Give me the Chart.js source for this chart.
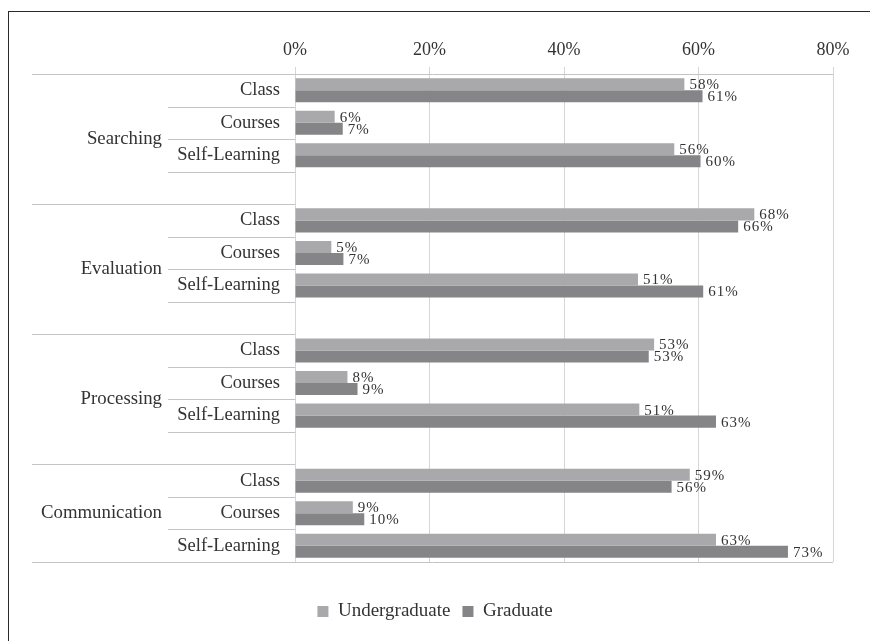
<!DOCTYPE html>
<html>
<head>
<meta charset="utf-8">
<script src="https://cdn.jsdelivr.net/npm/chart.js@4.4.1/dist/chart.umd.min.js"></script>
<style>
  html, body { margin: 0; padding: 0; background: #ffffff; overflow: hidden; }
  #wrap { position: absolute; left: 0; top: 0; width: 870px; height: 641px; }
  #frame { position: absolute; left: 8px; top: 11px; width: 900px; height: 700px; border-left: 1.5px solid #2a2a2a; border-top: 1.5px solid #2a2a2a; pointer-events: none; }
</style>
</head>
<body>
<div id="wrap"><canvas id="c"></canvas></div>
<div id="frame"></div>
<script>
// ---- data ----
const groups = ['Searching', 'Evaluation', 'Processing', 'Communication'];
const subCategories = ['Class', 'Courses', 'Self-Learning'];
const seriesNames = ['Undergraduate', 'Graduate'];
// order: Searching(Class, Courses, Self-Learning), Evaluation(...), Processing(...), Communication(...)
const undergraduate = [57.9, 5.9, 56.4, 68.3, 5.4, 51.0, 53.4, 7.8, 51.2, 58.7, 8.6, 62.6];
const graduate      = [60.6, 7.1, 60.3, 65.9, 7.2, 60.7, 52.6, 9.3, 62.6, 56.0, 10.3, 73.3];
const xTickValues = [0, 20, 40, 60, 80];

// ---- build slot tables (empty spacer slot between groups) ----
const labels = [];
const ugData = [];
const grData = [];
const groupStart = [];
const groupSize = [];
groups.forEach((g, gi) => {
  groupStart.push(labels.length);
  subCategories.forEach((s, si) => {
    labels.push(s);
    ugData.push(undergraduate[gi * subCategories.length + si]);
    grData.push(graduate[gi * subCategories.length + si]);
  });
  if (gi < groups.length - 1) { labels.push(''); ugData.push(null); grData.push(null); }
  groupSize.push(labels.length - groupStart[gi]);
});

const FONT = "'Liberation Serif', 'Times New Roman', serif";
const TEXT = '#333333';
const LINE = '#c4c4c4';

const hierPlugin = {
  id: 'hier',
  afterDraw(chart) {
    const ctx = chart.ctx;
    const y = chart.scales.y;
    const area = chart.chartArea;
    const n = labels.length;
    const boundary = (i) => {
      if (i <= 0) return area.top;
      if (i >= n) return area.bottom;
      return (y.getPixelForValue(i - 1) + y.getPixelForValue(i)) / 2;
    };
    ctx.save();
    ctx.strokeStyle = LINE;
    ctx.lineWidth = 1;
    const hline = (x1, x2, yy) => {
      const py = Math.round(yy) + 0.5;
      ctx.beginPath(); ctx.moveTo(x1, py); ctx.lineTo(x2, py); ctx.stroke();
    };
    hline(32, area.right, boundary(0));
    hline(32, area.right, boundary(n));
    groups.forEach((g, gi) => {
      const s = groupStart[gi];
      const len = groupSize[gi];
      for (let k = 1; k <= subCategories.length; k++) {
        const idx = s + k;
        if (idx < s + len) hline(168, area.left, boundary(idx));
      }
      if (s + len < n) hline(32, area.left, boundary(s + len));
      const cy = (boundary(s) + boundary(s + len)) / 2;
      ctx.fillStyle = TEXT;
      ctx.font = '18.8px ' + FONT;
      ctx.textAlign = 'right';
      ctx.textBaseline = 'middle';
      ctx.fillText(g, 162, cy);
    });
    ctx.restore();
  },
  afterDatasetsDraw(chart) {
    const ctx = chart.ctx;
    ctx.save();
    ctx.font = '15px ' + FONT;
    ctx.fillStyle = TEXT;
    ctx.textAlign = 'left';
    ctx.textBaseline = 'middle';
    try { ctx.letterSpacing = '1px'; } catch (e) {}
    chart.data.datasets.forEach((ds, di) => {
      const meta = chart.getDatasetMeta(di);
      meta.data.forEach((el, i) => {
        const v = ds.data[i];
        if (v === null || v === undefined) return;
        ctx.fillText(Math.round(v) + '%', el.x + 5, el.y + 1);
      });
    });
    ctx.restore();
  }
};

new Chart(document.getElementById('c'), {
  type: 'bar',
  data: {
    labels: labels,
    datasets: [
      { label: seriesNames[0], data: ugData, backgroundColor: '#a9a9ab', borderWidth: 0,
        categoryPercentage: 0.74, barPercentage: 1.0 },
      { label: seriesNames[1], data: grData, backgroundColor: '#858588', borderWidth: 0,
        categoryPercentage: 0.74, barPercentage: 1.0 }
    ]
  },
  options: {
    indexAxis: 'y',
    responsive: true,
    maintainAspectRatio: false,
    animation: false,
    layout: { padding: { left: 0, right: 0, top: 0, bottom: 10 } },
    scales: {
      x: {
        position: 'top',
        min: 0, max: 80,
        afterBuildTicks(s) { s.ticks = xTickValues.map(v => ({ value: v })); },
        afterFit(s) { s.height = 74; },
        ticks: { stepSize: 20, padding: 6, color: TEXT, font: { family: FONT, size: 18 },
                 callback: (v) => v + '%' },
        grid: { color: '#d6d6d6', lineWidth: 1, drawTicks: true, tickLength: 7, tickColor: '#d6d6d6' },
        border: { display: false }
      },
      y: {
        position: 'left',
        afterFit(s) { s.width = 295; },
        ticks: { padding: 15, color: TEXT, font: { family: FONT, size: 18.5 }, autoSkip: false },
        grid: { display: false, drawTicks: false },
        border: { display: false }
      },
      xb: {
        type: 'linear', position: 'bottom', display: true,
        afterFit(s) { s.height = 28; },
        ticks: { display: false }, grid: { display: false }, border: { display: false }
      },
      yr: {
        type: 'linear', position: 'right', display: true,
        afterFit(s) { s.width = 37; },
        ticks: { display: false }, grid: { display: false }, border: { display: false }
      }
    },
    plugins: {
      legend: {
        position: 'bottom',
        labels: { boxWidth: 11, boxHeight: 11, padding: 12, color: TEXT,
                  font: { family: FONT, size: 19 } }
      },
      tooltip: { enabled: false }
    }
  },
  plugins: [hierPlugin]
});
</script>
</body>
</html>
